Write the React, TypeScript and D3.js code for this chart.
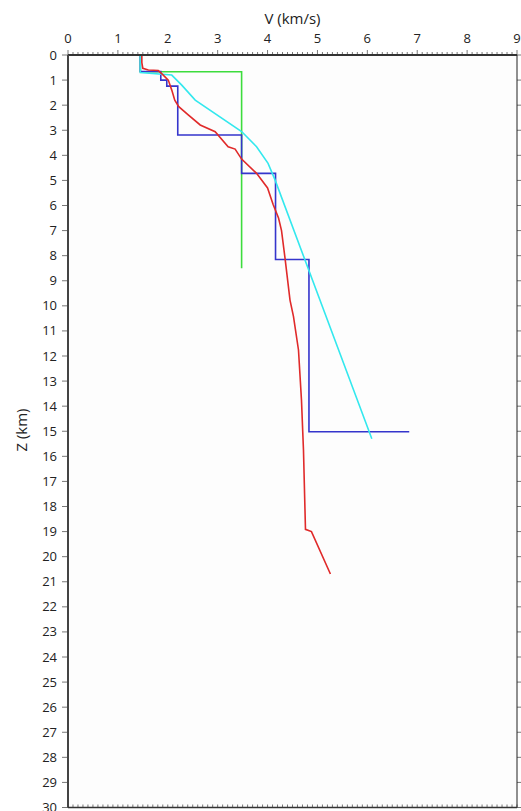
import React, { useEffect, useRef } from "react";
import * as d3 from "d3";

// velocity (km/s) vs depth (km) profiles
const greenV = [1.45, 1.45, 3.48, 3.48];
const greenZ = [0, 0.67, 0.67, 8.5];

const blueV = [1.45, 1.45, 1.86, 1.86, 1.98, 1.98, 2.2, 2.2, 3.48, 3.48, 4.16, 4.16, 4.83, 4.83, 6.84];
const blueZ = [0, 0.66, 0.66, 1.0, 1.0, 1.24, 1.24, 3.19, 3.19, 4.72, 4.72, 8.15, 8.15, 15.02, 15.02];

const cyanV = [1.45, 1.45, 2.08, 2.28, 2.55, 3.48, 3.78, 4.01, 4.15, 6.09];
const cyanZ = [0, 0.7, 0.8, 1.2, 1.8, 3.05, 3.66, 4.32, 4.98, 15.3];

const redV = [1.48, 1.48, 1.5, 1.61, 1.81, 1.91, 2.01, 2.08, 2.14, 2.22, 2.41, 2.65, 2.95, 3.21, 3.35, 3.48, 3.78, 4.0, 4.11, 4.22, 4.28, 4.35, 4.45, 4.52, 4.62, 4.68, 4.72, 4.76, 4.88, 5.26];
const redZ = [0, 0.3, 0.53, 0.6, 0.62, 0.8, 1.0, 1.4, 1.8, 2.06, 2.39, 2.79, 3.06, 3.66, 3.75, 4.15, 4.72, 5.3, 5.95, 6.5, 7.0, 8.1, 9.77, 10.43, 11.76, 13.76, 15.75, 18.91, 19.0, 20.69];

const xTicks = d3.range(0, 10);
const yTicks = d3.range(0, 31);

const App = () => {
  const ref = useRef<SVGSVGElement>(null);

  useEffect(() => {
    const svg = d3.select(ref.current);
    svg.selectAll("*").remove();

    const left = 68,
      right = 517,
      top = 55,
      bottom = 807.5;

    const x = d3.scaleLinear().domain([0, 9]).range([left, right]);
    const y = d3.scaleLinear().domain([0, 30]).range([top, bottom]);
    const font = "'Open Sans', 'DejaVu Sans', sans-serif";

    // plot background
    svg
      .append("rect")
      .attr("x", left)
      .attr("y", top)
      .attr("width", right - left)
      .attr("height", bottom - top)
      .attr("fill", "#fdfdfd");

    // curves
    const line = d3
      .line<[number, number]>()
      .x((d) => x(d[0]))
      .y((d) => y(d[1]));

    const series = [
      { v: greenV, z: greenZ, color: "#3ddc3d" },
      { v: blueV, z: blueZ, color: "#3535cc" },
      { v: cyanV, z: cyanZ, color: "#33e8ee" },
      { v: redV, z: redZ, color: "#e02a2a" },
    ];
    series.forEach((s) => {
      const pts: [number, number][] = s.v.map((v, i) => [v, s.z[i]]);
      svg
        .append("path")
        .datum(pts)
        .attr("d", line)
        .attr("fill", "none")
        .attr("stroke", s.color)
        .attr("stroke-width", 1.6)
        .attr("stroke-linejoin", "miter");
    });

    // top axis with minor ticks
    const minor = d3.range(0, 9.001, 0.1);
    svg
      .append("g")
      .selectAll("line")
      .data(minor)
      .enter()
      .append("line")
      .attr("x1", (d) => x(d))
      .attr("x2", (d) => x(d))
      .attr("y1", top)
      .attr("y2", (d) => top - (Math.abs(d - Math.round(d)) < 1e-6 ? 5 : 3))
      .attr("stroke", "#555")
      .attr("stroke-width", 0.8);

    // bottom minor ticks
    svg
      .append("g")
      .selectAll("line")
      .data(minor)
      .enter()
      .append("line")
      .attr("x1", (d) => x(d))
      .attr("x2", (d) => x(d))
      .attr("y1", bottom)
      .attr("y2", bottom - 3)
      .attr("stroke", "#555")
      .attr("stroke-width", 0.8);

    svg
      .append("g")
      .selectAll("text")
      .data(xTicks)
      .enter()
      .append("text")
      .attr("x", (d) => x(d))
      .attr("y", 43)
      .attr("text-anchor", "middle")
      .attr("font-family", font)
      .attr("font-size", 13)
      .attr("fill", "#222")
      .text((d) => d);

    // left axis
    svg
      .append("g")
      .selectAll("line")
      .data(yTicks)
      .enter()
      .append("line")
      .attr("x1", left - 6)
      .attr("x2", left)
      .attr("y1", (d) => y(d))
      .attr("y2", (d) => y(d))
      .attr("stroke", "#555")
      .attr("stroke-width", 0.8);

    svg
      .append("g")
      .selectAll("text")
      .data(yTicks)
      .enter()
      .append("text")
      .attr("x", 57)
      .attr("y", (d) => y(d))
      .attr("dy", "0.35em")
      .attr("text-anchor", "end")
      .attr("font-family", font)
      .attr("font-size", 13)
      .attr("fill", "#222")
      .text((d) => d);

    // right axis ticks
    svg
      .append("g")
      .selectAll("line")
      .data(yTicks)
      .enter()
      .append("line")
      .attr("x1", right)
      .attr("x2", right + 4)
      .attr("y1", (d) => y(d))
      .attr("y2", (d) => y(d))
      .attr("stroke", "#555")
      .attr("stroke-width", 0.8);

    // frame
    svg.append("line").attr("x1", left).attr("x2", right).attr("y1", top).attr("y2", top).attr("stroke", "#333").attr("stroke-width", 2);
    svg.append("line").attr("x1", left).attr("x2", left).attr("y1", top).attr("y2", bottom).attr("stroke", "#444").attr("stroke-width", 2);
    svg.append("line").attr("x1", right).attr("x2", right).attr("y1", top).attr("y2", bottom).attr("stroke", "#222").attr("stroke-width", 1);
    svg.append("line").attr("x1", left).attr("x2", right).attr("y1", bottom).attr("y2", bottom).attr("stroke", "#333").attr("stroke-width", 1.5);

    // axis titles
    svg
      .append("text")
      .attr("x", (left + right) / 2)
      .attr("y", 24)
      .attr("text-anchor", "middle")
      .attr("font-family", font)
      .attr("font-size", 15)
      .attr("fill", "#222")
      .text("V (km/s)");

    svg
      .append("text")
      .attr("transform", "translate(27, 430) rotate(-90)")
      .attr("text-anchor", "middle")
      .attr("font-family", font)
      .attr("font-size", 15)
      .attr("fill", "#222")
      .text("Z (km)");
  }, []);

  return (
    <svg
      ref={ref}
      width={521}
      height={811}
      style={{ position: "absolute", left: 0, top: 0, background: "#fff" }}
    ></svg>
  );
};

export default App;
